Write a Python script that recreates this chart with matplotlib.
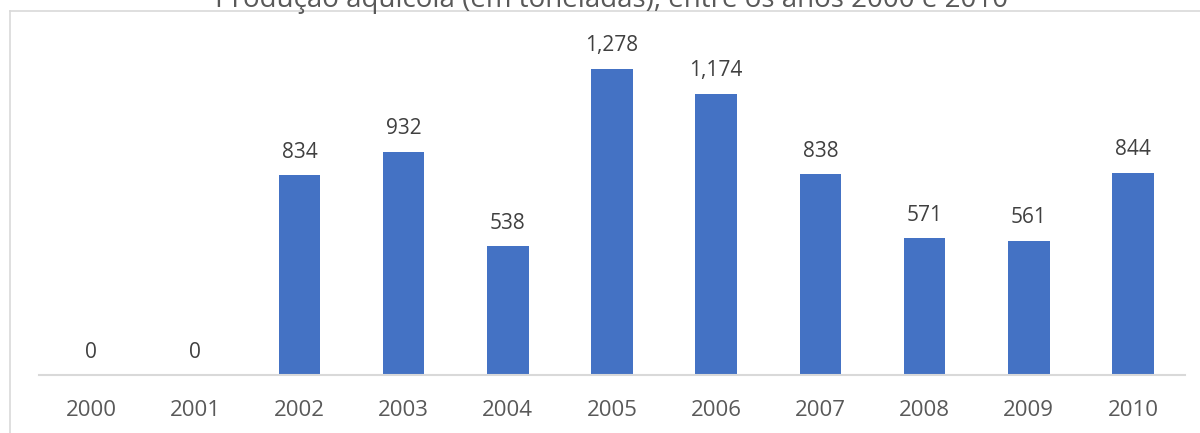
import matplotlib.pyplot as plt
from matplotlib.lines import Line2D

# data
anos = ["2000", "2001", "2002", "2003", "2004", "2005",
        "2006", "2007", "2008", "2009", "2010"]
producao = [0, 0, 834, 932, 538, 1278, 1174, 838, 571, 561, 844]
titulo = "Produção aquícola (em toneladas), entre os anos 2000 e 2010"

plt.rcParams['font.family'] = ['Open Sans', 'DejaVu Sans']

W, H = 1200, 433
fig = plt.figure(figsize=(W / 100, H / 100), dpi=100)

# axes placed in pixel terms
left, right, base, top = 39, 1185, 375, 40
ax = fig.add_axes([left / W, 1 - base / H, (right - left) / W, (base - top) / H])

x = range(len(anos))
bars = ax.bar(x, producao, width=0.4, color="#4472C4")
ax.set_xlim(-0.5, len(anos) - 0.5)
ax.set_ylim(0, 1399)

for xi, v in zip(x, producao):
    ax.annotate("{:,}".format(v), (xi, v), xytext=(0, 9), textcoords="offset points",
                ha="center", va="bottom", fontsize=15, color="#404040")

ax.set_xticks(list(x))
ax.set_xticklabels(anos, fontsize=16, color="#595959")
ax.tick_params(axis="x", length=0, pad=18)
ax.set_yticks([])
for s in ["top", "right", "left"]:
    ax.spines[s].set_visible(False)
ax.spines["bottom"].set_color("#d9d9d9")
ax.spines["bottom"].set_linewidth(1.5)

# chart frame (cropped on right and bottom)
fig.add_artist(Line2D([10 / W, 1], [1 - 11 / H, 1 - 11 / H], color="#d9d9d9", lw=1.2))
fig.add_artist(Line2D([10 / W, 10 / W], [0, 1 - 11 / H], color="#d9d9d9", lw=1.2))

# title is cut at the top edge, as in the reference
fig.text(612 / W, 1 - 0 / H, titulo, ha="center", va="center", fontsize=20, color="#595959")

fig.savefig("out.png", dpi=100)
